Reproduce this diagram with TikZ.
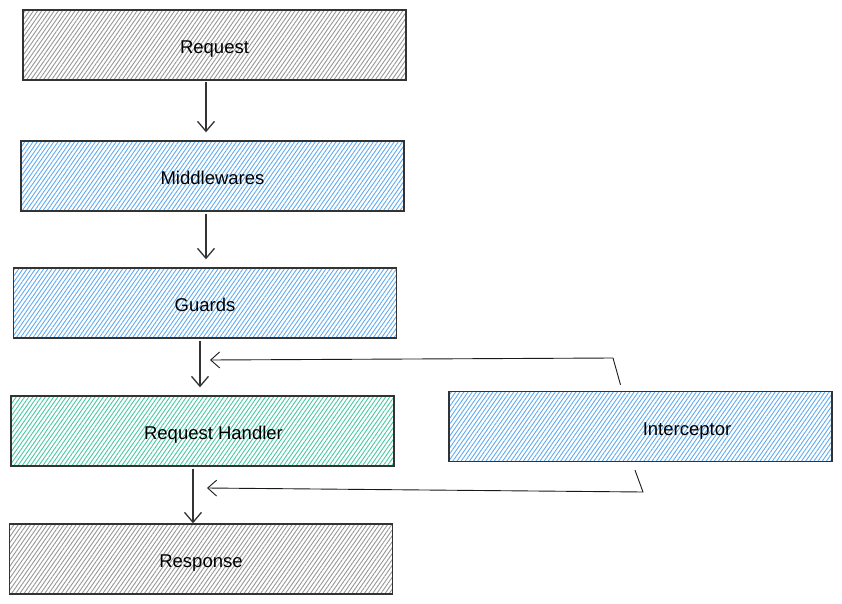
\documentclass[tikz,border=0pt]{standalone}
\usepackage{fontspec}
\setsansfont{Liberation Sans}
\usepackage{xcolor}
\usepackage{tikz}
\usetikzlibrary{arrows.meta, patterns.meta, positioning}
\definecolor{hatch_grey}{RGB}{150, 150, 150}
\definecolor{hatch_blue}{RGB}{95, 170, 240}
\definecolor{hatch_green}{RGB}{70, 200, 160}

\begin{document}
\begin{tikzpicture}[x=1pt, y=-1pt,
        stage/.style={rectangle, draw=black!80, line width=1.4pt,
                      minimum width=383pt, minimum height=70pt,
                      text height=21pt, text depth=4pt,
                      font=\sffamily\fontsize{18.5}{22}\selectfont, inner sep=0pt},
        hatch/.style={pattern={Lines[angle=55, distance=3.4pt, line width=0.9pt]},
                      pattern color=#1},
        flow/.style={-{Straight Barb[length=10pt, width=17pt]}, black!80, line width=1.3pt},
        back/.style={-{Straight Barb[length=9pt, width=16pt]}, black!90, line width=0.9pt},
      ]
        \useasboundingbox (0,0) rectangle (842,604);

        \node[stage, hatch=hatch_grey]  (req) at (214.5, 45)  {Request};
        \node[stage, hatch=hatch_blue]  (mid) at (212.5, 176) {Middlewares};
        \node[stage, hatch=hatch_blue]  (grd) at (205, 303)   {Guards};
        \node[stage, hatch=hatch_green] (hdl) at (202.5, 431)
          {\hspace*{22pt}Request Handler};
        \node[stage, hatch=hatch_grey]  (res) at (201, 559)   {Response};
        \node[stage, hatch=hatch_blue]  (icp) at (640.5, 426.5)
          {\hspace*{93pt}Interceptor};

        \coordinate (in1)  at (210, 360);
        \coordinate (out1) at (207, 488);

        \draw[flow] ([xshift=-8.5pt, yshift=-2pt]req.south) -- ([xshift=-6.5pt, yshift=8pt]mid.north);
        \draw[flow] ([xshift=-6.5pt, yshift=-2pt]mid.south) -- ([xshift=1pt, yshift=8pt]grd.north);
        \draw[flow] ([xshift=-5pt, yshift=-2pt]grd.south)   -- ([xshift=-2.5pt, yshift=8pt]hdl.north);
        \draw[flow] ([xshift=-9.5pt, yshift=-2pt]hdl.south) -- ([xshift=-8pt]res.north);

        \draw[back] ([xshift=-20pt, yshift=6pt]icp.north) -- (613, 358) -- (in1);
        \draw[back] ([xshift=-5.5pt, yshift=-8pt]icp.south) -- (643, 492) -- (out1);
      \end{tikzpicture}
\end{document}
